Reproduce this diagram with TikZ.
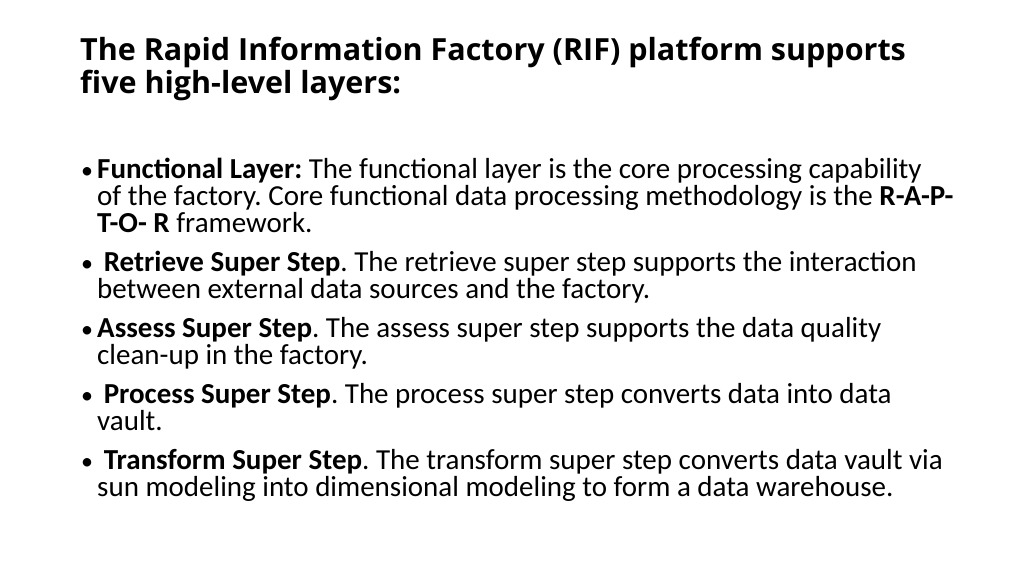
\documentclass[tikz,border=0pt]{standalone}
\usepackage{fontspec}
\setmainfont{Carlito}
\newfontfamily\titlefont{Open Sans}
\begin{document}
\frenchspacing
\begin{tikzpicture}[x=1pt,y=-1pt,
  ttl/.style={anchor=base west,inner sep=0pt,font=\titlefont\bfseries\fontsize{30.5}{34}\selectfont},
  txt/.style={anchor=base west,inner sep=0pt,font=\fontsize{29}{32}\selectfont},
  bul/.style={anchor=base west,inner sep=0pt,font=\fontsize{24}{28}\selectfont}]
\useasboundingbox[fill=white] (0,0) rectangle (1024,575);
\node[ttl] (t1) at (80,61) {The Rapid Information Factory (RIF) platform supports};
\node[ttl] (t2) at (80,94) {five high-level layers:};
\node[bul] (b1) at (81,178) {•};
\node[txt] (l1) at (97,178) {\textbf{Functional Layer:} The functional layer is the core processing capability};
\node[txt] (l2) at (97,205) {of the factory. Core functional data processing methodology is the \textbf{R-A-P-}};
\node[txt] (l3) at (97,232) {\textbf{T-O- R} framework.};
\node[bul] (b2) at (81,271) {•};
\node[txt] (l4) at (97,271) {\ \textbf{Retrieve Super Step}. The retrieve super step supports the interaction};
\node[txt] (l5) at (97,298) {between external data sources and the factory.};
\node[bul] (b3) at (81,337) {•};
\node[txt] (l6) at (97,337) {\textbf{Assess Super Step}. The assess super step supports the data quality};
\node[txt] (l7) at (97,364) {clean-up in the factory.};
\node[bul] (b4) at (81,403) {•};
\node[txt] (l8) at (97,403) {\ \textbf{Process Super Step}. The process super step converts data into data};
\node[txt] (l9) at (97,430) {vault.};
\node[bul] (b5) at (81,469) {•};
\node[txt] (l10) at (97,469) {\ \textbf{Transform Super Step}. The transform super step converts data vault via};
\node[txt] (l11) at (97,496) {sun modeling into dimensional modeling to form a data warehouse.};
\end{tikzpicture}
\end{document}
